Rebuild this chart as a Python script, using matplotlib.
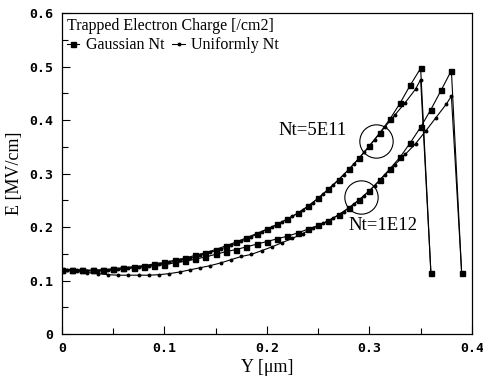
import numpy as np
import matplotlib
matplotlib.use("Agg")
import matplotlib.pyplot as plt
from matplotlib.ticker import MultipleLocator, FixedLocator

# Gaussian Nt curves: markers every 0.01 um
y_gauss_5e11 = np.round(np.arange(0, 0.355, 0.01), 3)
e_gauss_5e11 = [0.120, 0.120, 0.120, 0.119, 0.120, 0.122, 0.124, 0.126, 0.128, 0.131,
                0.134, 0.138, 0.142, 0.147, 0.152, 0.158, 0.165, 0.172, 0.180, 0.188,
                0.196, 0.205, 0.215, 0.226, 0.239, 0.254, 0.271, 0.289, 0.308, 0.329,
                0.352, 0.376, 0.402, 0.432, 0.466, 0.497]
y_gauss_1e12 = np.round(np.arange(0, 0.385, 0.01), 3)
e_gauss_1e12 = [0.120, 0.120, 0.119, 0.119, 0.120, 0.121, 0.123, 0.124, 0.126, 0.128,
                0.130, 0.133, 0.136, 0.140, 0.144, 0.149, 0.154, 0.158, 0.163, 0.168,
                0.173, 0.178, 0.183, 0.189, 0.196, 0.203, 0.212, 0.223, 0.236, 0.251,
                0.268, 0.288, 0.309, 0.331, 0.358, 0.387, 0.420, 0.456, 0.493]

# Uniformly Nt curves: markers between the Gaussian ones
y_unif_5e11 = [0.0, 0.005, 0.015, 0.025, 0.035, 0.045, 0.055, 0.065, 0.075, 0.085,
               0.095, 0.105, 0.115, 0.125, 0.135, 0.145, 0.155, 0.165, 0.175, 0.185,
               0.195, 0.205, 0.215, 0.225, 0.235, 0.245, 0.255, 0.265, 0.275, 0.285,
               0.295, 0.305, 0.315, 0.325, 0.335, 0.345, 0.35]
e_unif_5e11 = [0.120, 0.120, 0.119, 0.118, 0.118, 0.119, 0.121, 0.123, 0.125, 0.128,
               0.131, 0.134, 0.138, 0.142, 0.147, 0.153, 0.159, 0.166, 0.174, 0.182,
               0.191, 0.200, 0.210, 0.220, 0.232, 0.246, 0.262, 0.279, 0.298, 0.318,
               0.340, 0.363, 0.387, 0.410, 0.433, 0.458, 0.476]
y_unif_1e12 = [0.0, 0.005, 0.015, 0.025, 0.035, 0.045, 0.055, 0.065, 0.075, 0.085,
               0.095, 0.105, 0.115, 0.125, 0.135, 0.145, 0.155, 0.165, 0.175, 0.185,
               0.195, 0.205, 0.215, 0.225, 0.235, 0.245, 0.255, 0.265, 0.275, 0.285,
               0.295, 0.305, 0.315, 0.325, 0.335, 0.345, 0.355, 0.365, 0.375, 0.38]
e_unif_1e12 = [0.120, 0.119, 0.117, 0.115, 0.113, 0.111, 0.110, 0.110, 0.110, 0.110,
               0.111, 0.113, 0.116, 0.120, 0.124, 0.128, 0.133, 0.139, 0.145, 0.149,
               0.156, 0.163, 0.171, 0.179, 0.188, 0.198, 0.207, 0.217, 0.229, 0.243,
               0.259, 0.277, 0.297, 0.317, 0.336, 0.356, 0.380, 0.405, 0.430, 0.445]

# field drop past the peak
y_drop = [0.36, 0.39]
e_drop = [0.115, 0.115]

circle_y = [0.306, 0.292]
circle_e = [0.362, 0.256]
x_ticks = [0, 0.1, 0.2, 0.3, 0.4]
x_labels = ["0", "0.1", "0.2", "0.3", "0.4"]
e_ticks = [0, 0.1, 0.2, 0.3, 0.4, 0.5, 0.6]
e_labels = ["0", "0.1", "0.2", "0.3", "0.4", "0.5", "0.6"]

serif = "Liberation Serif"

fig = plt.figure(figsize=(4.83, 3.92), dpi=100)
ax = fig.add_axes([0.128, 0.148, 0.849, 0.818])

lw = 0.8
sq = dict(color="black", lw=lw, marker="s", ms=3.6)
dot = dict(color="black", lw=lw, marker="o", ms=1.8)

ax.plot(list(y_unif_5e11) + [y_drop[0]], list(e_unif_5e11) + [e_drop[0]], **dot)
ax.plot(list(y_unif_1e12) + [y_drop[1]], list(e_unif_1e12) + [e_drop[1]], **dot)
ax.plot(list(y_gauss_5e11) + [y_drop[0]], list(e_gauss_5e11) + [e_drop[0]],
        label="Gaussian Nt", **sq)
ax.plot(list(y_gauss_1e12) + [y_drop[1]], list(e_gauss_1e12) + [e_drop[1]], **sq)
ax.plot([], [], label="Uniformly Nt", **dot)

ax.plot(circle_y, circle_e, ls="none", marker="o", ms=24, mfc="none", mec="black", mew=0.8)
ax.text(0.211, 0.381, "Nt=5E11", family=serif, fontsize=13.5, va="center")
ax.text(0.280, 0.203, "Nt=1E12", family=serif, fontsize=13.5, va="center")

ax.set_xlim(0, 0.4)
ax.set_ylim(0, 0.6)
ax.xaxis.set_major_locator(FixedLocator(x_ticks))
ax.set_xticklabels(x_labels)
ax.yaxis.set_major_locator(FixedLocator(e_ticks))
ax.set_yticklabels(e_labels)
ax.xaxis.set_minor_locator(MultipleLocator(0.05))
ax.yaxis.set_minor_locator(MultipleLocator(0.05))
ax.tick_params(which="both", direction="in", top=False, right=False, width=0.8)
ax.tick_params(which="major", length=6, labelsize=9.5, pad=6)
ax.tick_params(which="minor", length=4)
for lab in ax.get_xticklabels() + ax.get_yticklabels():
    lab.set_family("DejaVu Sans Mono")
    lab.set_fontweight("bold")
for s in ax.spines.values():
    s.set_linewidth(0.9)

ax.set_xlabel("Y [μm]", family=serif, fontsize=13, labelpad=3)
ax.set_ylabel("E [MV/cm]", family=serif, fontsize=13, labelpad=5)

leg = ax.legend(loc="upper left", ncol=2, frameon=False, title="Trapped Electron Charge [/cm2]",
                prop={"family": serif, "size": 11.5}, handlelength=0.8, handletextpad=0.4,
                columnspacing=0.5, borderaxespad=0.1, borderpad=0.2, markerfirst=True,
                labelspacing=0.2)
leg.get_title().set_family(serif)
leg.get_title().set_fontsize(11.5)
leg._legend_box.align = "left"

fig.savefig("out.png", dpi=100)
